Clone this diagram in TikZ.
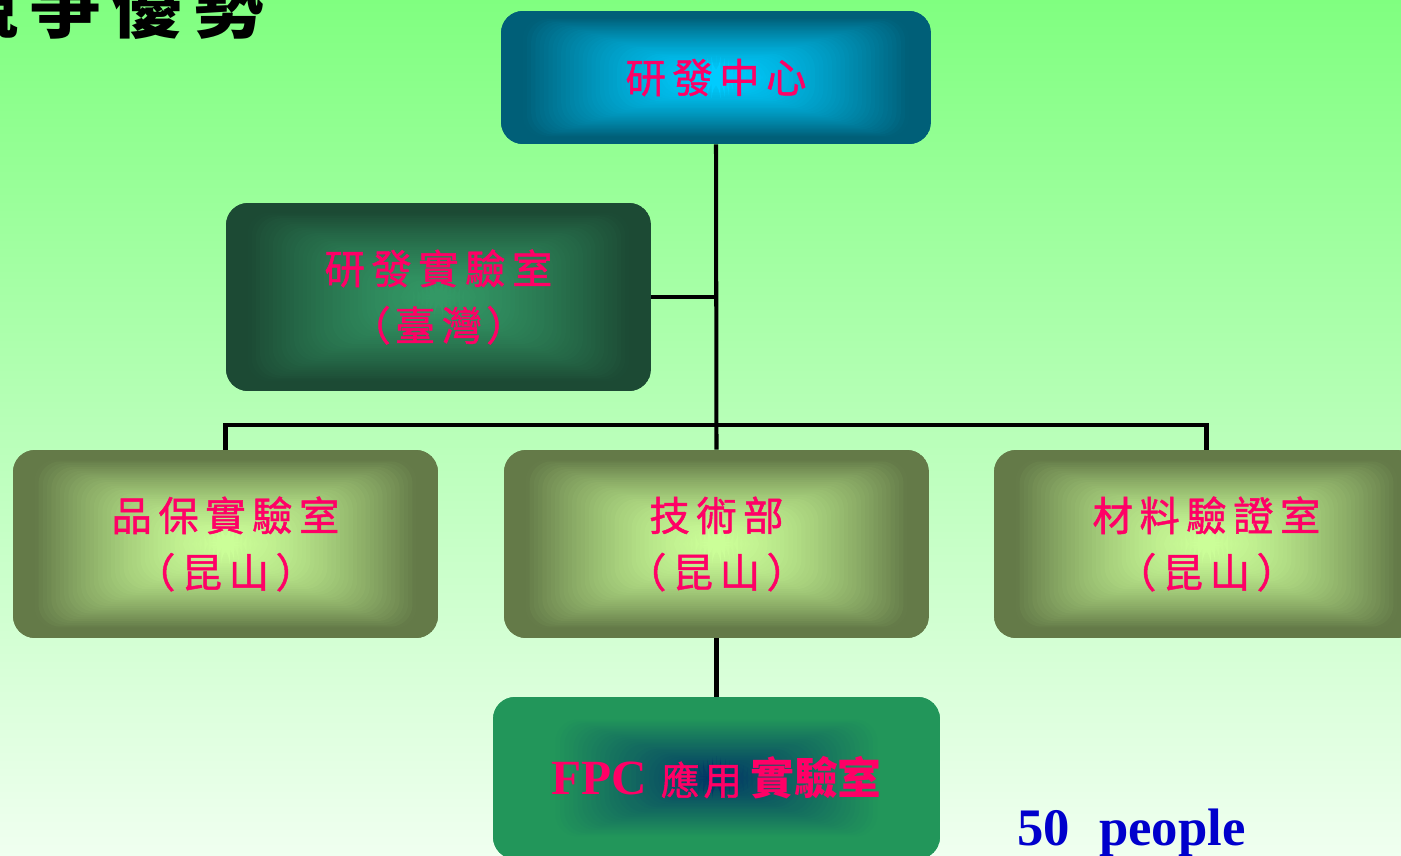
\documentclass[tikz,border=0pt]{standalone}
\usepackage{fontspec}
\usetikzlibrary{calc}
\setmainfont{Liberation Serif}
\newfontfamily\cjk[FakeBold=1.2]{Noto Sans CJK TC}
\newfontfamily\cjkb{Noto Sans CJK TC}
\newcommand\gk{\kern0.16em}
\definecolor{bgtop}{RGB}{128,255,128}
\definecolor{bgbot}{RGB}{240,255,240}
\definecolor{pinkred}{RGB}{255,0,102}
\definecolor{pplblue}{RGB}{0,0,204}
\definecolor{cyanin}{RGB}{0,204,255}
\definecolor{cyanout}{RGB}{0,95,120}
\definecolor{dgin}{RGB}{51,153,102}
\definecolor{dgout}{RGB}{28,74,52}
\definecolor{olin}{RGB}{204,255,153}
\definecolor{olout}{RGB}{100,122,72}
\definecolor{fpcin}{RGB}{0,51,102}
\definecolor{fpcout}{RGB}{34,150,90}
\tikzset{
  box/.style={rounded corners=0.44cm, inner sep=0pt, align=center,
    text=pinkred, font=\cjk\fontsize{23}{32.3}\selectfont},
  gradfill/.style n args={4}{fill=#2, path picture={
    \foreach \i in {0,...,50}{
      \pgfmathsetmacro\s{1-\i/50}
      \pgfmathsetmacro\tt{min(1,(\s*#3)^#4)}
      \pgfmathtruncatemacro\p{100*(1-\tt)}
      \fill[#1!\p!#2] ($(path picture bounding box.center)!\s!(path picture bounding box.south west)$)
        rectangle ($(path picture bounding box.center)!\s!(path picture bounding box.north east)$);
    }}},
  conn/.style={draw=black, line width=2.3pt}
}
\begin{document}
\begin{tikzpicture}[x=0.02cm, y=-0.02cm]
\useasboundingbox (0,0) rectangle (1401,856);
\shade[top color=bgtop, bottom color=bgbot] (0,0) rectangle (1401,856);

\node[font=\cjkb\bfseries\fontsize{40}{40}\selectfont, inner sep=0pt] (title) at (106,6) {競\gk 爭\gk 優\gk 勢};

\node[box, gradfill={cyanin}{cyanout}{1.1}{1.5}, minimum width=8.6cm, minimum height=2.66cm] (top) at (716,77.5) {研\gk 發\gk 中\gk 心};
\node[box, gradfill={dgin}{dgout}{1.1}{1.5}, minimum width=8.5cm, minimum height=3.76cm] (rdlab) at (438.5,297) {研\gk 發\gk 實\gk 驗\gk 室\\（\kern0.1em 臺\gk 灣\kern0.1em ）};
\node[box, gradfill={olin}{olout}{1.1}{1.6}, minimum width=8.5cm, minimum height=3.76cm] (qa) at (225.5,544) {品\gk 保\gk 實\gk 驗\gk 室\\（\gk 昆\gk 山\gk ）};
\node[box, gradfill={olin}{olout}{1.1}{1.6}, minimum width=8.5cm, minimum height=3.76cm] (tech) at (716.5,544) {技\gk 術\gk 部\\（\gk 昆\gk 山\gk ）};
\node[box, gradfill={olin}{olout}{1.1}{1.6}, minimum width=8.5cm, minimum height=3.76cm] (mat) at (1206.5,544) {材\gk 料\gk 驗\gk 證\gk 室\\（\gk 昆\gk 山\gk ）};
\node[box, gradfill={fpcin}{fpcout}{1.35}{1}, minimum width=8.94cm, minimum height=3.24cm] (fpc) at (716.5,778) {{\rmfamily\bfseries\fontsize{28}{30}\selectfont FPC}\kern0.35em{\fontsize{22}{30}\selectfont 應\kern0.1em 用}\kern0.2em{\cjkb\bfseries\fontsize{25}{30}\selectfont 實驗室}};

\node[anchor=base west, inner sep=0pt, text=pplblue, font=\bfseries\fontsize{30}{30}\selectfont] (ppl) at (1017,845) {50\hspace{0.55em}people};

\coordinate (bus) at (716,425);
\draw[conn] (top.south) -- (tech.north);
\draw[conn] (rdlab.east) -- (rdlab.east -| top.south);
\draw[conn] (qa.north) |- (bus) -| (mat.north);
\draw[conn] (tech.south) -- (fpc.north);
\end{tikzpicture}
\end{document}
